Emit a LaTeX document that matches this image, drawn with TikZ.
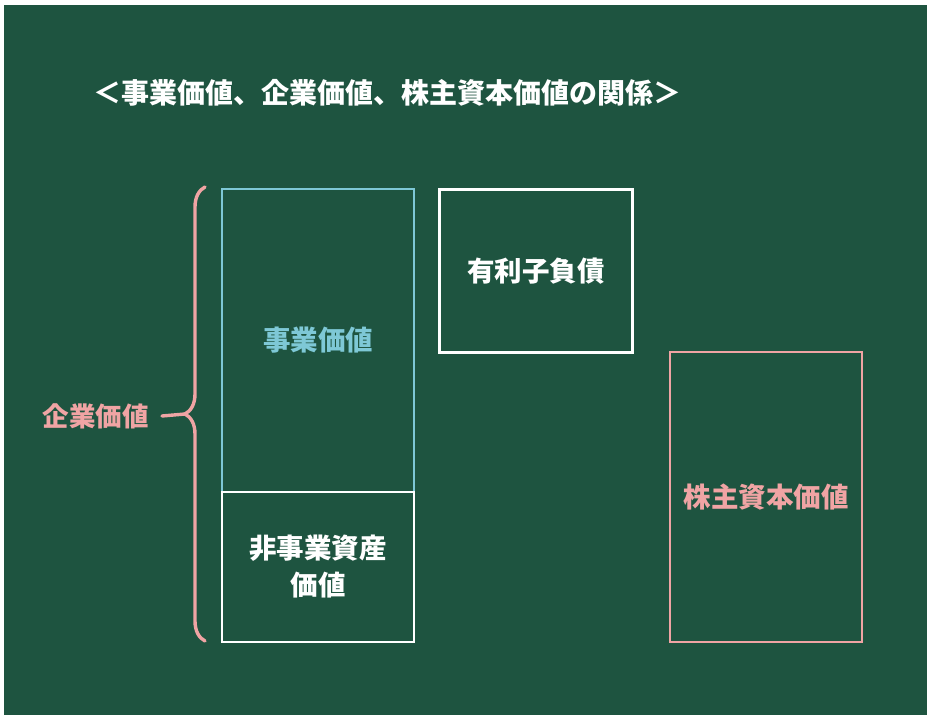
\documentclass[tikz,border=0pt]{standalone}
\usepackage{fontspec}
\setmainfont{Noto Sans CJK JP}
\usepackage{tikz}
\usetikzlibrary{positioning,decorations.pathreplacing}

\definecolor{board}{RGB}{30,84,64}
\definecolor{bizcyan}{RGB}{126,200,214}
\definecolor{eqpink}{RGB}{240,164,164}

\begin{document}
\begin{tikzpicture}[
  x=1pt, y=-1pt,
  block/.style={rectangle, draw=white, line width=2.6pt, outer sep=0pt,
    minimum width=192pt, font=\fontsize{27.5}{37}\selectfont\bfseries,
    text=white, align=center, inner sep=0pt},
  title/.style={font=\fontsize{28}{33}\selectfont\bfseries, text=white, inner sep=0pt},
  blabel/.style={font=\fontsize{26.5}{32}\selectfont\bfseries, text=eqpink, inner sep=0pt},
  curly/.style={decorate, decoration={brace, amplitude=20pt}, draw=eqpink,
    line width=3.4pt, line cap=round}
]

% board and margins
\fill[white] (0,0) rectangle (934,720);
\fill[board] (4,5) rectangle (927,715);

% heading
\node[title, anchor=west] (head) at (93,93) {＜事業価値、企業価値、株主資本価値の関係＞};

% value blocks
\node[block, draw=bizcyan, text=bizcyan, minimum height=303pt] (biz) at (318,340.5) {事業価値};
\node[block, minimum height=150pt, below=0pt of biz] (nonbiz) {非事業資産\\価値};
\node[block, minimum width=193pt, minimum height=163pt] (debt) at (536,271) {有利子負債};
\node[block, draw=eqpink, text=eqpink, minimum height=290pt] (equity) at (766,497) {株主資本価値};

% brace for enterprise value
\coordinate (brtop) at (205,187);
\coordinate (brbot) at (205,641);
\coordinate (brtip) at (185,414);
\draw[curly] (brbot) -- (brtop);
\node[blabel, anchor=east] (ev) at (149,416) {企業価値};
\draw[eqpink, line width=3.4pt, line cap=round] ([xshift=13pt]ev.east) -- (brtip);

\end{tikzpicture}
\end{document}
